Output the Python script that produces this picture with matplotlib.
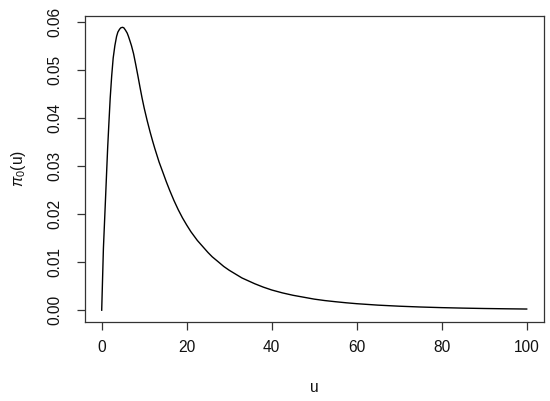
import matplotlib
matplotlib.use("Agg")
import matplotlib.pyplot as plt

# Data
u = [0, 0.2, 0.4, 0.65, 0.9, 1.15, 1.4, 1.7, 2.0, 2.35, 2.7, 3.1, 3.5, 3.8,
     4.2, 4.5, 4.9, 5.2, 5.6, 6.0, 6.3, 6.6, 7.0, 7.5, 8.0, 8.5, 9.0, 9.5,
     10.0, 10.7, 11.4, 12.0, 12.5, 13.5, 14.5, 15.2, 16.0, 17.0, 18.0, 19.0,
     20.0, 21.0, 22.5, 23.5, 25.0, 26.0, 27.5, 28.7, 30.0, 31.5, 33.0, 34.5,
     36.0, 38.0, 40.0, 42.5, 45.0, 47.5, 50.0, 52.5, 55.0, 57.5, 60.0, 65.0,
     70.0, 75.0, 80.0, 85.0, 90.0, 95.0, 100.0]
pi0 = [0.0, 0.0064, 0.0128, 0.0180, 0.0232, 0.0285, 0.0337, 0.0390, 0.0441,
       0.0487, 0.0524, 0.0550, 0.0569, 0.0578, 0.0584, 0.0587, 0.0588, 0.0587,
       0.0582, 0.0576, 0.0569, 0.0561, 0.0550, 0.0533, 0.0511, 0.0488, 0.0464,
       0.0441, 0.0420, 0.0394, 0.0370, 0.0351, 0.0336, 0.0308, 0.0284, 0.0267,
       0.0249, 0.0228, 0.0209, 0.0192, 0.0177, 0.0163, 0.0145, 0.0135, 0.0120,
       0.0111, 0.0100, 0.0091, 0.0083, 0.0075, 0.0067, 0.0061, 0.0055, 0.0048,
       0.0042, 0.0036, 0.0031, 0.0027, 0.0023, 0.0020, 0.00176, 0.00154,
       0.00135, 0.00105, 0.00083, 0.00066, 0.00053, 0.00043, 0.00035, 0.00029,
       0.00024]
xticks = [0, 20, 40, 60, 80, 100]
yticks = [0.00, 0.01, 0.02, 0.03, 0.04, 0.05, 0.06]
ytick_labels = ["0.00", "0.01", "0.02", "0.03", "0.04", "0.05", "0.06"]

plt.rcParams['font.family'] = ['Liberation Sans', 'DejaVu Sans']
plt.rcParams['mathtext.fontset'] = 'custom'
plt.rcParams['mathtext.rm'] = 'Liberation Sans'
plt.rcParams['mathtext.it'] = 'Liberation Sans:italic'

W, H = 550, 401
fig = plt.figure(figsize=(W / 100, H / 100), dpi=100)
L, R, T, B = 84.7, 543.7, 16.0, 321.5
ax = fig.add_axes([L / W, 1 - B / H, (R - L) / W, (B - T) / H])

ax.plot(u, pi0, color='black', lw=1.0, solid_joinstyle='round')

xmin, xmax = 0, 100
ymin, ymax = 0, max(pi0)
ax.set_xlim(xmin - 0.04 * (xmax - xmin), xmax + 0.04 * (xmax - xmin))
ax.set_ylim(ymin - 0.04 * (ymax - ymin), ymax + 0.04 * (ymax - ymin))

ax.set_xticks(xticks)
ax.set_xticklabels([str(t) for t in xticks])
ax.set_yticks(yticks)
ax.set_yticklabels(ytick_labels, rotation=90, va='center')

fs = 11.2
ax.tick_params(axis='both', direction='out', length=5.8, width=0.9,
               labelsize=fs, color='#333333', labelcolor='#111111')
ax.tick_params(axis='x', pad=7.5)
ax.tick_params(axis='y', pad=10.5)
for s in ax.spines.values():
    s.set_linewidth(0.9)
    s.set_color('#333333')

fig.text((L + R) / 2 / W, 1 - 388 / H, 'u', ha='center', va='center',
         fontsize=fs, color='#111111')
fig.text(19 / W, 1 - 169 / H, r'$\pi_0\mathrm{(u)}$', ha='center',
         va='center', rotation=90, fontsize=fs, color='#111111')

fig.savefig('out.png', dpi=100)
